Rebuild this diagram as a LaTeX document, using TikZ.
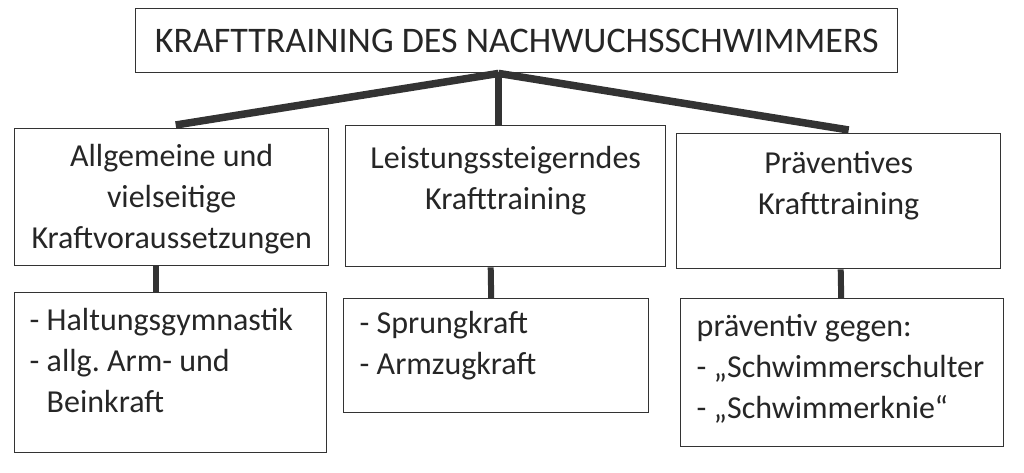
\documentclass[tikz,border=0pt]{standalone}
\usepackage{fontspec}
\setmainfont{Carlito}
\begin{document}
\begin{tikzpicture}%
  [x=1pt,y=-1pt,font=\fontsize{32}{41}\selectfont]
  \tikzstyle{box node}=[rectangle,draw=black!80,line width=1.4pt,inner sep=0,anchor=north west,text=black!85]
  \tikzstyle{bar}=[draw=black!80,line width=7.5pt]
  \useasboundingbox (0,0) rectangle (1024,472);
  \node(0)[box node] at (135,8){\parbox[c][64pt][c]{762pt}{\centering\fontsize{36}{40}\selectfont KRAFTTRAINING DES NACHWUCHSSCHWIMMERS}};
  \node(1)[box node] at (14,128){\parbox[t][137pt][t]{314pt}{\centering\rule{0pt}{38pt}Allgemeine und\\vielseitige\\Kraftvoraussetzungen}};
  \node(2)[box node] at (345,125){\parbox[t][141pt][t]{320pt}{\centering\rule{0pt}{43pt}Leistungssteigerndes\\Krafttraining}};
  \node(3)[box node] at (676,133){\parbox[t][135pt][t]{324pt}{\centering\rule{0pt}{40pt}Präventives\\Krafttraining}};
  \node(11)[box node] at (14,292){\parbox[t][160pt][t]{312pt}{\raggedright\leftskip=15pt\rule{0pt}{38pt}- Haltungsgymnastik\\- allg.\ Arm- und\\\phantom{- }Beinkraft}};
  \node(21)[box node] at (343,298){\parbox[t][114pt][t]{305pt}{\raggedright\leftskip=16pt\rule{0pt}{35pt}- Sprungkraft\\- Armzugkraft}};
  \node(31)[box node] at (680,298){\parbox[t][148pt][t]{323pt}{\raggedright\leftskip=16pt\rule{0pt}{38pt}präventiv gegen:\\- „Schwimmerschulter\\- „Schwimmerknie“}};
  % connectors
  \draw[bar] ([xshift=-18pt]0.south) -- ([xshift=4pt,yshift=3pt]1.north);
  \draw[bar] ([xshift=-18pt]0.south) -- ([xshift=-7pt]2.north);
  \draw[bar] ([xshift=-18pt]0.south) -- ([xshift=10pt,yshift=3pt]3.north);
  \draw[bar,line width=6pt] ([xshift=-16pt]1.south) -- ([xshift=-15pt]11.north);
  \draw[bar,line width=6pt] ([xshift=-15pt]2.south) -- ([xshift=-5pt]21.north);
  \draw[bar,line width=6pt] ([xshift=2pt]3.south) -- ([xshift=-1pt]31.north);
\end{tikzpicture}
\end{document}
